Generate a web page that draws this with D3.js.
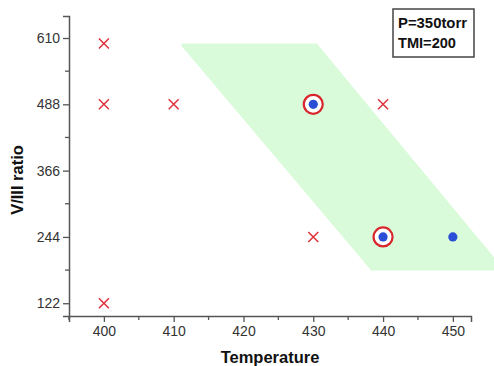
<!DOCTYPE html>
<html>
<head>
<meta charset="utf-8">
<script src="https://cdn.jsdelivr.net/npm/d3@7"></script>
<style>
  body { margin: 0; background: #fff; }
  text { font-family: Arial, "Liberation Sans", sans-serif; }
</style>
</head>
<body>
<div id="chart"></div>
<script>
var svgWidth = 494;
var svgHeight = 366;

var margin = { top: 16, right: 23, bottom: 50, left: 69 };
var width = svgWidth - margin.left - margin.right;
var height = svgHeight - margin.top - margin.bottom;

// data
var xTicks = [400, 410, 420, 430, 440, 450];
var yTicks = [122, 244, 366, 488, 610];
var failTemp = [400, 400, 410, 440, 430, 400];
var failRatio = [600, 488, 488, 488, 244, 122];
var goodTemp = [430, 440, 450];
var goodRatio = [488, 244, 244];
var goodCircled = [true, true, false];
var windowTemp = [411.3, 430.4, 457, 438.4];
var windowRatio = [597, 597, 185, 185];
var noteLines = ["P=350torr", "TMI=200"];

var svg = d3.select("#chart")
  .append("svg")
  .attr("width", svgWidth)
  .attr("height", svgHeight);

var chartGroup = svg.append("g")
  .attr("transform", `translate(${margin.left}, ${margin.top})`);

var x = d3.scaleLinear().domain([395, 452.6]).range([0, width]);
var y = d3.scaleLinear().domain([98.5, 650.5]).range([height, 0]);

// green process window
chartGroup.append("path")
  .datum(windowTemp.map((t, i) => [x(t), y(windowRatio[i])]))
  .attr("d", d3.line().curve(d3.curveLinearClosed))
  .attr("fill", "#d9fbd9")
  .attr("stroke", "#d9fbd9")
  .attr("stroke-width", 3)
  .attr("stroke-linejoin", "round");

// axes
var minorX = d3.range(395, 452.6, 5).filter(v => v % 10 !== 0);
var minorY = d3.range(183, 650, 122);

var bottomAxis = d3.axisBottom(x).tickValues(xTicks).tickSizeOuter(0).tickSize(6).tickPadding(4);
var leftAxis = d3.axisLeft(y).tickValues(yTicks).tickSizeOuter(0).tickSize(6).tickPadding(3);

var gx = chartGroup.append("g")
  .attr("transform", `translate(0, ${height})`)
  .call(bottomAxis);
gx.selectAll(".minor").data(minorX).enter().append("line")
  .attr("x1", d => x(d)).attr("x2", d => x(d))
  .attr("y1", 0).attr("y2", 4);

var gy = chartGroup.append("g").call(leftAxis);
gy.selectAll(".minor").data(minorY).enter().append("line")
  .attr("y1", d => y(d)).attr("y2", d => y(d))
  .attr("x1", 0).attr("x2", -4);

[gx, gy].forEach(function(g) {
  g.select(".domain").attr("stroke", "#555").attr("stroke-width", 1.5);
  g.selectAll("line").attr("stroke", "#555").attr("stroke-width", 1.3);
  g.selectAll("text").attr("fill", "#333").style("font-size", "14px");
});

// failed runs
var xs = 5;
chartGroup.selectAll(".cross")
  .data(failTemp)
  .enter()
  .append("path")
  .attr("d", (d, i) => {
    var cx = x(d), cy = y(failRatio[i]);
    return `M${cx - xs},${cy - xs}L${cx + xs},${cy + xs}M${cx - xs},${cy + xs}L${cx + xs},${cy - xs}`;
  })
  .attr("stroke", "#e0303a")
  .attr("stroke-width", 1.5)
  .attr("fill", "none");

// successful runs
chartGroup.selectAll(".ring")
  .data(goodTemp.filter((d, i) => goodCircled[i]))
  .enter()
  .append("circle")
  .attr("cx", d => x(d))
  .attr("cy", (d, i) => y(goodRatio[goodTemp.indexOf(d)]))
  .attr("r", 9.5)
  .attr("fill", "#fff")
  .attr("stroke", "#d8262c")
  .attr("stroke-width", 2.2);

chartGroup.selectAll(".dot")
  .data(goodTemp)
  .enter()
  .append("circle")
  .attr("cx", d => x(d))
  .attr("cy", (d, i) => y(goodRatio[i]))
  .attr("r", 4.6)
  .attr("fill", "#2a4fd6");

// axis titles
svg.append("text")
  .attr("transform", "translate(23, 180) rotate(-90)")
  .attr("text-anchor", "middle")
  .style("font-size", "16.5px")
  .style("font-weight", "bold")
  .attr("fill", "#111")
  .text("V/III ratio");

svg.append("text")
  .attr("x", 270)
  .attr("y", 363)
  .attr("text-anchor", "middle")
  .style("font-size", "16.5px")
  .style("font-weight", "bold")
  .attr("fill", "#111")
  .text("Temperature");

// condition note
svg.append("rect")
  .attr("x", 393).attr("y", 9)
  .attr("width", 81).attr("height", 48)
  .attr("fill", "#fff")
  .attr("stroke", "#444")
  .attr("stroke-width", 1.5);

svg.selectAll(".note")
  .data(noteLines)
  .enter()
  .append("text")
  .attr("x", 398)
  .attr("y", (d, i) => 28 + i * 20)
  .attr("textLength", (d, i) => i === 0 ? 69 : 58)
  .attr("lengthAdjust", "spacingAndGlyphs")
  .style("font-size", "15px")
  .style("font-weight", "bold")
  .attr("fill", "#111")
  .text(d => d);
</script>
</body>
</html>
